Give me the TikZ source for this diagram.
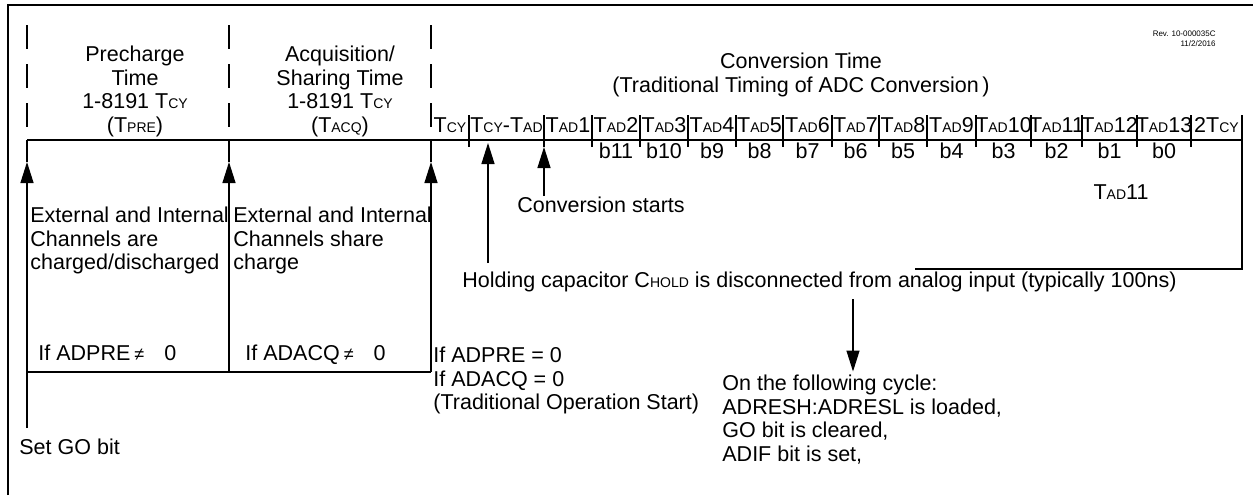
\documentclass[tikz,border=0pt]{standalone}
\usepackage{fontspec}
\setmainfont{Liberation Sans}
\usetikzlibrary{arrows.meta,calc}

\newcommand\tsub[1]{{\fontsize{7}{7}\selectfont #1}}

\tikzset{
  txt/.style={font=\fontsize{10.75}{11.8}\selectfont, inner sep=0pt},
  ln/.style={line width=0.65pt},
  phase/.style={ln, dash pattern=on 12pt off 7.5pt},
  arr/.style={ln, -{Triangle[length=10.5pt,width=6.5pt]}},
}

\begin{document}
\begin{tikzpicture}[x=0.5pt,y=-0.5pt]
            \useasboundingbox (0,0) rectangle (1253,495);
            % frame
            \coordinate(fBL)at(8,495);
            \coordinate(fTL)at(8,5);
            \coordinate(fTR)at(1253,5);
            \path[draw, line width = 1.4pt](fBL)--(fTL)--(fTR);
            % time axis
            \coordinate(ax0)at(27,140);
            \coordinate(axE)at(1242,140);
            \path[draw, ln](ax0)to(axE);
            % phase borders
            \foreach \x [count=\i] in {27,229,431}{
                \coordinate(pt\i)at(\x,25);
                \coordinate(pb\i)at(\x,127);
                \path[draw, phase](pt\i)to(pb\i);
            }
            % ticks
            \foreach \x in {469,544,592,640,688,736,783,832,879,927,976,1031,1082,1137,1191}
                \path[draw, ln](\x,115)to(\x,147);
            % cell labels
            \foreach \xl/\xr/\lab [count=\i] in {431/469/{T\tsub{CY}}, 469/544/{T\tsub{CY}-T\tsub{AD}},
                544/592/{T\tsub{AD}1}, 592/640/{T\tsub{AD}2}, 640/688/{T\tsub{AD}3}, 688/736/{T\tsub{AD}4},
                736/783/{T\tsub{AD}5}, 783/832/{T\tsub{AD}6}, 832/879/{T\tsub{AD}7}, 879/927/{T\tsub{AD}8},
                927/976/{T\tsub{AD}9}, 976/1031/{T\tsub{AD}10}, 1031/1082/{T\tsub{AD}11},
                1082/1137/{T\tsub{AD}12}, 1137/1191/{T\tsub{AD}13}, 1191/1242/{2T\tsub{CY}}}
                \node[txt, anchor = base](c\i)at($(\xl,132)!0.5!(\xr,132)$){\lab};
            % bits
            \foreach \b [count=\i from 4] in {11,10,...,0}
                \node[txt, anchor = base](b\b)at($(c\i.base)+(0,26)$){b\b};
            % end of conversion
            \coordinate(rT)at(1242,115);
            \coordinate(rB)at(1242,269);
            \coordinate(rL)at(915,269);
            \path[draw, ln](rT)--(rB)--(rL);
            \node[txt, anchor = base](tad)at(1121,199){T\tsub{AD}11};
            % phase texts
            \node[txt, anchor = north, align = center](pre)at(135,44.5)
                {\strut Precharge\\Time\\1-8191 T\tsub{CY}\\(T\tsub{PRE})};
            \node[txt, anchor = north, align = center](acq)at(340,44.5)
                {\strut Acquisition/\\Sharing Time\\1-8191 T\tsub{CY}\\(T\tsub{ACQ})};
            \node[txt, anchor = north, align = center](conv)at(801,51.5)
                {\strut Conversion Time\\(Traditional Timing of ADC Conversion\,)};
            \node[anchor = north east, align = right, inner sep = 0pt, font = \fontsize{4}{5}\selectfont](rev)at(1216,29)
                {\strut Rev. 10-000035C\\11/2/2016};
            % set GO bit
            \coordinate(g0)at(27,428);
            \coordinate(gA)at(27,162);
            \path[draw, arr](g0)to(gA);
            \path[draw, ln](gA)to(ax0);
            \node[txt, anchor = base west](go)at(19,454){Set GO bit};
            % precharge / acquisition starts
            \foreach \x [count=\i] in {229,431}{
                \coordinate(s\i)at(\x,372);
                \coordinate(sA\i)at(\x,162);
                \path[draw, arr](s\i)to(sA\i);
                \path[draw, ln](sA\i)to(\x,140);
            }
            \coordinate(g1)at(27,372);
            \path[draw, ln](g1)to(s2);
            \node[txt, anchor = north west, align = left](pch)at(30,205.5)
                {\strut External and Internal\\Channels are\\charged/discharged};
            \node[txt, anchor = north west, align = left](ach)at(233,205.5)
                {\strut External and Internal\\Channels share\\charge};
            \node[txt, anchor = base west](npre)at(38,360)
                {If ADPRE\hspace{2pt}{\fontsize{9}{9}\selectfont ≠}\hspace{10pt}0};
            \node[txt, anchor = base west](nacq)at(245,360)
                {If ADACQ\hspace{2pt}{\fontsize{9}{9}\selectfont ≠}\hspace{10pt}0};
            \node[txt, anchor = north west, align = left](trad)at(433,345.5)
                {\strut If ADPRE = 0\\If ADACQ = 0\\(Traditional Operation Start)};
            % conversion starts
            \node[txt, anchor = base west](cs)at(517,212){Conversion starts};
            \coordinate(csT)at(544,147);
            \path[draw, arr](cs.north -| csT)to(csT);
            % holding capacitor
            \node[txt, anchor = base west](hc)at(462,287)
                {Holding capacitor C\tsub{HOLD} is disconnected from analog input (typically 100ns)};
            \coordinate(hcB)at(488,263);
            \coordinate(hcT)at(488,143);
            \path[draw, arr](hcB)to(hcT);
            % result loaded
            \node[txt, anchor = north west, align = left](res)at(722,373.5)
                {\strut On the following cycle:\\ADRESH:ADRESL is loaded,\\GO bit is cleared,\\ADIF bit is set,};
            \coordinate(resT)at(853,299);
            \path[draw, arr](resT)to($(resT |- res.north)+(0,-2)$);
        \end{tikzpicture}
\end{document}
